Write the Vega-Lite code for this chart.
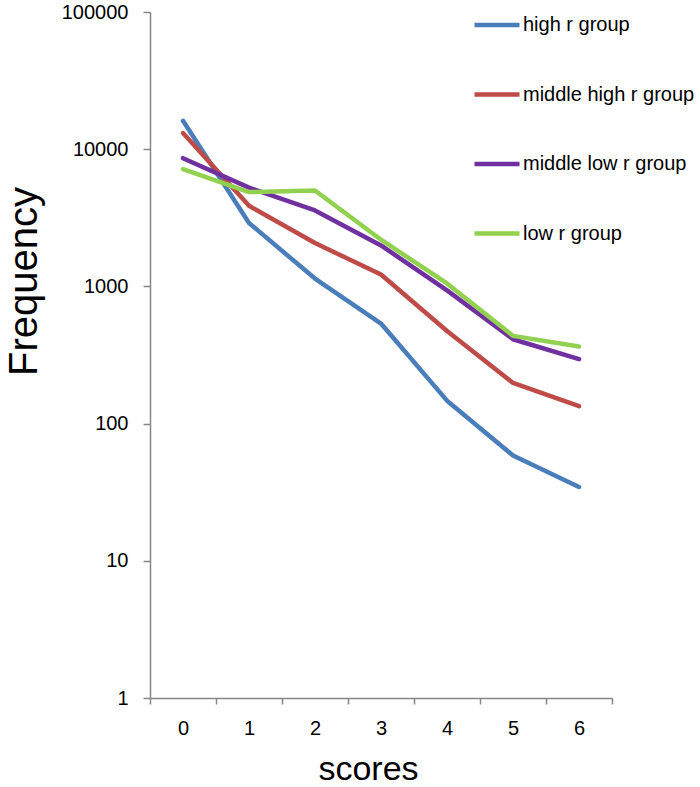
{
  "$schema": "https://vega.github.io/schema/vega-lite/v6.json",
  "autosize": "none",
  "width": 462,
  "height": 686,
  "padding": {"left": 150, "top": 12, "right": 88, "bottom": 89},
  "background": "white",
  "config": {
    "font": "Liberation Sans",
    "view": {"stroke": null},
    "axis": {"grid": false, "domainColor": "#868686", "tickColor": "#868686", "domainWidth": 1.5, "tickWidth": 1.5, "labelColor": "#000000", "titleColor": "#000000", "labelFont": "Liberation Sans", "titleFont": "Liberation Sans", "titleFontWeight": "normal"}
  },
  "data": {
    "values": [
      {"score": "0", "group": "high r group", "freq": 16100},
      {"score": "1", "group": "high r group", "freq": 2900},
      {"score": "2", "group": "high r group", "freq": 1140},
      {"score": "3", "group": "high r group", "freq": 536},
      {"score": "4", "group": "high r group", "freq": 147},
      {"score": "5", "group": "high r group", "freq": 58.6},
      {"score": "6", "group": "high r group", "freq": 34.5},
      {"score": "0", "group": "middle high r group", "freq": 13100},
      {"score": "1", "group": "middle high r group", "freq": 3870},
      {"score": "2", "group": "middle high r group", "freq": 2070},
      {"score": "3", "group": "middle high r group", "freq": 1220},
      {"score": "4", "group": "middle high r group", "freq": 473},
      {"score": "5", "group": "middle high r group", "freq": 198},
      {"score": "6", "group": "middle high r group", "freq": 134},
      {"score": "0", "group": "middle low r group", "freq": 8600},
      {"score": "1", "group": "middle low r group", "freq": 5250},
      {"score": "2", "group": "middle low r group", "freq": 3580},
      {"score": "3", "group": "middle low r group", "freq": 1990},
      {"score": "4", "group": "middle low r group", "freq": 935},
      {"score": "5", "group": "middle low r group", "freq": 412},
      {"score": "6", "group": "middle low r group", "freq": 295},
      {"score": "0", "group": "low r group", "freq": 7160},
      {"score": "1", "group": "low r group", "freq": 4870},
      {"score": "2", "group": "low r group", "freq": 5000},
      {"score": "3", "group": "low r group", "freq": 2190},
      {"score": "4", "group": "low r group", "freq": 1050},
      {"score": "5", "group": "low r group", "freq": 436},
      {"score": "6", "group": "low r group", "freq": 365}
    ]
  },
  "mark": {"type": "line", "strokeWidth": 4.5, "strokeCap": "round", "strokeJoin": "round"},
  "encoding": {
    "x": {
      "field": "score", "type": "ordinal", "bandPosition": 0.5,
      "scale": {"type": "band", "paddingInner": 0, "paddingOuter": 0},
      "axis": {"labelAngle": 0, "tickBand": "extent", "tickSize": 6, "labelFontSize": 20, "labelPadding": 14, "title": "scores", "titleFontSize": 34, "titleX": 218, "titleY": 81, "titleBaseline": "alphabetic", "titleAnchor": null, "titleAlign": "center"}
    },
    "y": {
      "field": "freq", "type": "quantitative",
      "scale": {"type": "log", "domain": [1, 100000], "nice": false},
      "axis": {"values": [1, 10, 100, 1000, 10000, 100000], "format": "d", "tickSize": 7, "labelFontSize": 20, "labelPadding": 15, "title": "Frequency", "titleFontSize": 40, "titleAngle": -90, "titleX": -114, "titleY": 269, "titleBaseline": "alphabetic", "titleAlign": "center"}
    },
    "color": {
      "field": "group", "type": "nominal",
      "scale": {"domain": ["high r group", "middle high r group", "middle low r group", "low r group"], "range": ["#4A7EBB", "#BE4B48", "#7030A0", "#92D050"]},
      "legend": {"title": null, "orient": "none", "legendX": 322, "legendY": -12, "padding": 0, "symbolType": "stroke", "symbolSize": 2025, "symbolStrokeWidth": 4.5, "labelFontSize": 20, "labelOffset": 1, "rowPadding": 34.5, "labelColor": "#000000", "labelFont": "Liberation Sans", "labelLimit": 300}
    }
  }
}
